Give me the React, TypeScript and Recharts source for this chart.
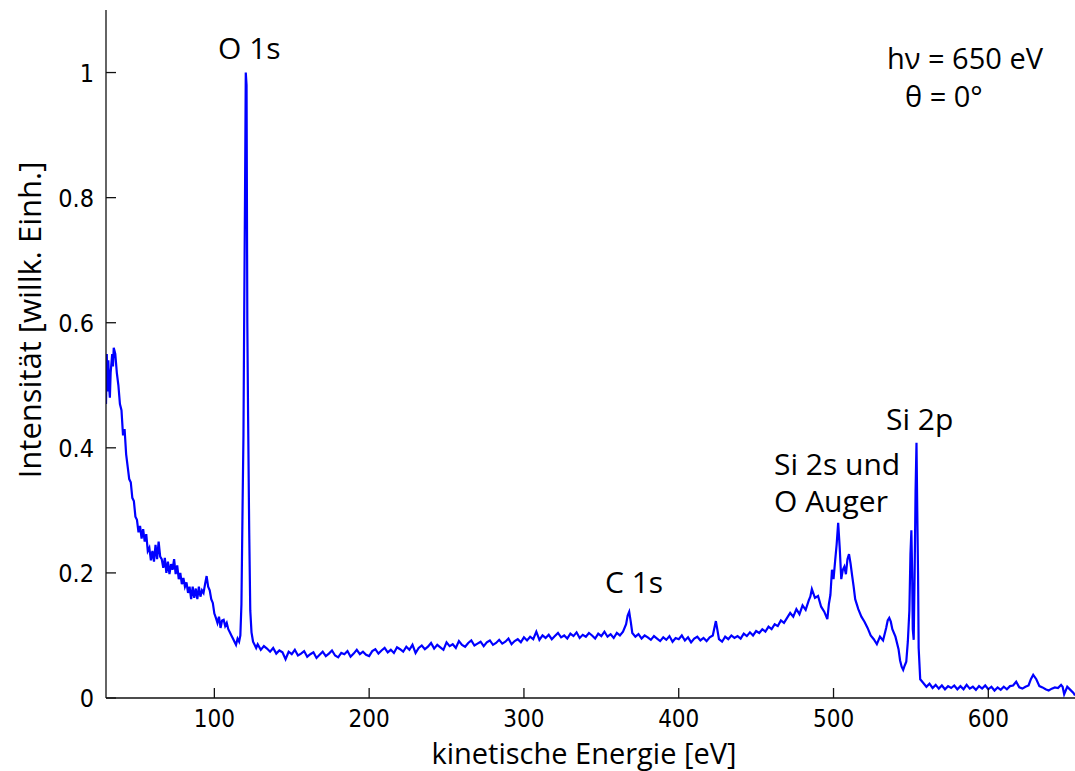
import { LineChart, Line, XAxis, YAxis, Customized } from "recharts";

// kinetic energy (eV) and normalised intensity
const energyEv = [
  30, 30.5, 31, 31.5, 32, 32.5, 33, 34, 34.5, 35, 36, 37, 38, 39, 40, 41, 42, 43, 44, 45,
  46, 47, 48, 49, 50, 51, 52, 53, 54, 55, 56, 57, 58, 59, 60, 61, 62, 63, 64, 65,
  66, 67, 68, 69, 70, 71, 72, 73, 74, 75, 76, 77, 78, 79, 80, 81, 82, 83, 84, 85,
  86, 87, 88, 89, 90, 91, 92, 93, 94, 95, 96, 97, 98, 99, 100, 101, 102, 103, 104, 105,
  106, 107, 108, 109, 110, 111, 112, 113, 114, 115, 116, 116.8, 117.5, 118.2, 118.8, 119.3, 119.8, 120.3, 120.8, 121.3,
  121.8, 122.5, 123.2, 124, 125, 126, 127, 128, 130, 132, 134, 136, 138, 140, 142, 144, 146, 148, 150, 152,
  154, 156, 158, 160, 162, 164, 166, 168, 170, 172, 174, 176, 178, 180, 182, 184, 186, 188, 190, 192,
  194, 196, 198, 200, 202, 204, 206, 208, 210, 212, 214, 216, 218, 220, 222, 224, 226, 228, 230, 232,
  234, 236, 238, 240, 242, 244, 246, 248, 250, 252, 254, 256, 258, 260, 262, 264, 266, 268, 270, 272,
  274, 276, 278, 280, 282, 284, 286, 288, 290, 292, 294, 296, 298, 300, 302, 304, 306, 308, 310, 312,
  314, 316, 318, 320, 322, 324, 326, 328, 330, 332, 334, 336, 338, 340, 342, 344, 346, 348, 350, 352,
  354, 356, 358, 360, 362, 364, 366, 367, 368, 369, 370, 372, 374, 376, 378, 380, 382, 384, 386, 388,
  390, 392, 394, 396, 398, 400, 402, 404, 406, 408, 410, 412, 414, 416, 418, 420, 422, 424, 426, 428,
  430, 432, 434, 436, 438, 440, 442, 444, 446, 448, 450, 452, 454, 456, 458, 460, 462, 464, 466, 468,
  470, 472, 474, 476, 478, 480, 482, 484, 485, 486, 488, 490, 492, 494, 496, 497, 498, 499, 500, 501,
  502, 503, 504, 505, 506, 507, 508, 509, 510, 511, 512, 513, 514, 516, 518, 520, 522, 524, 526, 528,
  530, 532, 534, 535, 536, 537, 538, 540, 542, 543, 544, 545, 546, 547, 548, 549, 549.7, 550.3, 550.8, 551.2,
  551.8, 552.4, 553, 553.6, 554.1, 554.6, 555, 556, 558, 560, 562, 564, 566, 568, 570, 572, 574, 576, 578, 580,
  582, 584, 586, 588, 590, 592, 594, 596, 598, 600, 602, 604, 606, 608, 610, 612, 614, 616, 618, 620,
  622, 624, 626, 627.5, 629, 631, 633, 635, 637, 639, 641, 643, 645, 647, 648, 649, 651, 653, 655, 656,
];

const intensity = [
  0.47, 0.55, 0.49, 0.54, 0.5, 0.48, 0.52, 0.55, 0.53, 0.56, 0.55, 0.52, 0.5, 0.47, 0.46, 0.42, 0.43, 0.39, 0.37, 0.35,
  0.345, 0.32, 0.315, 0.29, 0.285, 0.265, 0.275, 0.255, 0.27, 0.25, 0.262, 0.235, 0.24, 0.22, 0.235, 0.218, 0.245, 0.222, 0.25, 0.226,
  0.222, 0.208, 0.224, 0.2, 0.218, 0.198, 0.214, 0.205, 0.222, 0.198, 0.212, 0.19, 0.2, 0.182, 0.192, 0.178, 0.185, 0.168, 0.178, 0.158,
  0.178, 0.16, 0.175, 0.158, 0.178, 0.162, 0.172, 0.168, 0.182, 0.195, 0.178, 0.172, 0.158, 0.152, 0.135, 0.128, 0.12, 0.13, 0.112, 0.124,
  0.125, 0.115, 0.12, 0.11, 0.105, 0.1, 0.095, 0.09, 0.085, 0.095, 0.09, 0.1, 0.15, 0.3, 0.42, 0.62, 0.8, 1.0, 0.98, 0.6,
  0.45, 0.27, 0.14, 0.105, 0.09, 0.085, 0.08, 0.086, 0.077, 0.083, 0.079, 0.074, 0.08, 0.071, 0.076, 0.073, 0.062, 0.074, 0.07, 0.077,
  0.068, 0.071, 0.075, 0.066, 0.07, 0.073, 0.064, 0.069, 0.074, 0.067, 0.071, 0.076, 0.068, 0.065, 0.072, 0.07, 0.075, 0.066, 0.071, 0.077,
  0.07, 0.074, 0.069, 0.067, 0.075, 0.078, 0.071, 0.076, 0.08, 0.073, 0.077, 0.072, 0.081, 0.078, 0.074, 0.082, 0.077, 0.085, 0.072, 0.08,
  0.084, 0.078, 0.082, 0.088, 0.079, 0.085, 0.081, 0.077, 0.089, 0.083, 0.086, 0.08, 0.091, 0.085, 0.082, 0.088, 0.092, 0.084, 0.087, 0.09,
  0.083, 0.089, 0.092, 0.085, 0.088, 0.093, 0.087, 0.09, 0.095, 0.086, 0.091, 0.094, 0.089, 0.097, 0.092, 0.098, 0.094, 0.106, 0.093, 0.1,
  0.096, 0.101, 0.094, 0.099, 0.104, 0.097, 0.1, 0.095, 0.103, 0.099, 0.105, 0.096, 0.101, 0.098, 0.104, 0.1, 0.095, 0.103, 0.099, 0.106,
  0.098, 0.102, 0.096, 0.104, 0.1, 0.106, 0.118, 0.132, 0.138, 0.122, 0.104, 0.098, 0.102, 0.095, 0.1, 0.097, 0.093, 0.099, 0.095, 0.091,
  0.097, 0.093, 0.099, 0.09, 0.096, 0.094, 0.1, 0.092, 0.097, 0.089, 0.095, 0.098, 0.092, 0.096, 0.091, 0.097, 0.1, 0.123, 0.094, 0.09,
  0.098, 0.094, 0.1, 0.096, 0.099, 0.095, 0.103, 0.099, 0.105, 0.1, 0.107, 0.104, 0.11, 0.106, 0.114, 0.11, 0.118, 0.115, 0.124, 0.12,
  0.128, 0.136, 0.13, 0.142, 0.134, 0.148, 0.141, 0.156, 0.162, 0.174, 0.16, 0.163, 0.146, 0.138, 0.126, 0.15, 0.165, 0.205, 0.19, 0.218,
  0.245, 0.28, 0.24, 0.19, 0.205, 0.21, 0.198, 0.222, 0.23, 0.215, 0.196, 0.178, 0.158, 0.142, 0.13, 0.122, 0.112, 0.1, 0.094, 0.086,
  0.098, 0.092, 0.112, 0.124, 0.128, 0.122, 0.11, 0.098, 0.078, 0.06, 0.05, 0.045, 0.052, 0.058, 0.09, 0.14, 0.23, 0.268, 0.2, 0.11,
  0.093, 0.2, 0.33, 0.408, 0.3, 0.2, 0.08, 0.03, 0.024, 0.018, 0.023, 0.016, 0.021, 0.015, 0.02, 0.014, 0.019, 0.016, 0.02, 0.014,
  0.019, 0.014, 0.021, 0.015, 0.018, 0.013, 0.019, 0.015, 0.02, 0.014, 0.018, 0.012, 0.017, 0.013, 0.018, 0.014, 0.019, 0.02, 0.026, 0.017,
  0.015, 0.018, 0.02, 0.03, 0.037, 0.03, 0.019, 0.017, 0.014, 0.012, 0.015, 0.017, 0.016, 0.021, 0.018, 0.006, 0.018, 0.013, 0.008, 0.004,
];

const xTicks = [100, 200, 300, 400, 500, 600];
const yTicks = [0, 0.2, 0.4, 0.6, 0.8, 1];

const spectrum = energyEv.map((e, i) => ({ e, v: intensity[i] }));

const FRAME = "#111";
const TICK_FONT = "'Liberation Sans Narrow', 'DejaVu Sans Condensed', 'Liberation Sans', sans-serif";
const LABEL_FONT = "'Open Sans', 'Noto Sans', sans-serif";

const fmt = (v: number) => (v === 0 || v === 1 ? String(v) : v.toFixed(1));

const BottomTick = (props: any) => {
  const { x, y, payload } = props;
  return (
    <g>
      <line x1={x} x2={x} y1={y} y2={y - 10} stroke={FRAME} strokeWidth={1.3} />
      <text x={x} y={y + 29} textAnchor="middle" fontSize={24} fontFamily={TICK_FONT} fill="#000">
        {payload.value}
      </text>
    </g>
  );
};

const TopTick = (props: any) => {
  const { x, y } = props;
  return <line x1={x} x2={x} y1={y} y2={y + 10} stroke={FRAME} strokeWidth={1.3} />;
};

const LeftTick = (props: any) => {
  const { x, y, payload } = props;
  return (
    <g>
      <line x1={x} x2={x + 10} y1={y} y2={y} stroke={FRAME} strokeWidth={1.3} />
      <text x={x - 12} y={y + 9} textAnchor="end" fontSize={25} fontFamily={TICK_FONT} fill="#000">
        {fmt(payload.value)}
      </text>
    </g>
  );
};

const RightTick = (props: any) => {
  const { x, y } = props;
  return <line x1={x - 10} x2={x} y1={y} y2={y} stroke={FRAME} strokeWidth={1.3} />;
};

const Annotations = () => (
  <g fontFamily={LABEL_FONT} fill="#000">
    <text x={218} y={59} fontSize={30}>O 1s</text>
    <text x={887} y={69} fontSize={29}>hν = 650 eV</text>
    <text x={905} y={107} fontSize={29}>θ = 0°</text>
    <text x={886} y={430} fontSize={30}>Si 2p</text>
    <text x={774} y={475} fontSize={30}>Si 2s und</text>
    <text x={774} y={512} fontSize={30}>O Auger</text>
    <text x={605} y={593} fontSize={30}>C 1s</text>
    <text x={584} y={764} fontSize={29} textAnchor="middle">kinetische Energie [eV]</text>
    <text x={41} y={320} fontSize={31} textAnchor="middle" transform="rotate(-90 41 320)">
      Intensität [willk. Einh.]
    </text>
  </g>
);

export default function App() {
  return (
    <div style={{ position: "absolute", left: 0, top: 0, background: "#fff" }}>
      <LineChart
        width={1075}
        height={771}
        data={spectrum}
        margin={{ top: 10, right: 0, bottom: 0, left: 0 }}
      >
        <XAxis
          dataKey="e"
          type="number"
          domain={[30, 656]}
          ticks={xTicks}
          interval={0}
          allowDataOverflow
          height={73}
          tickSize={0}
          tickMargin={0}
          tickLine={false}
          axisLine={{ stroke: FRAME, strokeWidth: 1.3 }}
          tick={<BottomTick />}
        />
        <XAxis
          xAxisId="top"
          dataKey="e"
          type="number"
          orientation="top"
          domain={[30, 656]}
          ticks={xTicks}
          interval={0}
          allowDataOverflow
          height={0}
          tickSize={0}
          tickMargin={0}
          tickLine={false}
          axisLine={{ stroke: FRAME, strokeWidth: 1.3 }}
          tick={<TopTick />}
        />
        <YAxis
          type="number"
          domain={[0, 1.1]}
          ticks={yTicks}
          interval={0}
          allowDataOverflow
          width={106}
          tickSize={0}
          tickMargin={0}
          tickLine={false}
          axisLine={{ stroke: FRAME, strokeWidth: 1.3 }}
          tick={<LeftTick />}
        />
        <YAxis
          yAxisId="right"
          type="number"
          orientation="right"
          domain={[0, 1.1]}
          ticks={yTicks}
          interval={0}
          allowDataOverflow
          width={0}
          tickSize={0}
          tickMargin={0}
          tickLine={false}
          axisLine={{ stroke: FRAME, strokeWidth: 1.3 }}
          tick={<RightTick />}
        />
        <Line
          type="linear"
          dataKey="v"
          stroke="#0000ff"
          strokeWidth={2.2}
          dot={false}
          isAnimationActive={false}
        />
        <Customized component={<Annotations />} />
      </LineChart>
    </div>
  );
}
